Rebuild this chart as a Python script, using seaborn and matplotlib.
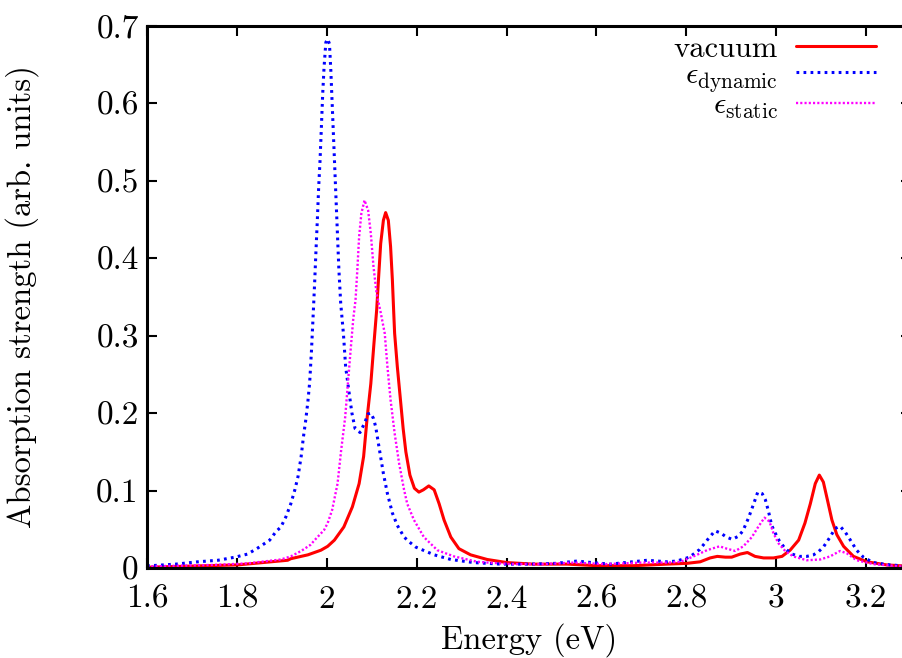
import numpy as np
import pandas as pd
import matplotlib
matplotlib.use("Agg")
import matplotlib.pyplot as plt
import seaborn as sns
from matplotlib.ticker import FuncFormatter

# ---- data ----
vac_E = [1.600, 1.802, 1.913, 1.920, 1.958, 1.987, 2.002, 2.017, 2.038, 2.057, 2.072, 2.082,
         2.090, 2.098, 2.105, 2.111, 2.115, 2.120, 2.126, 2.131, 2.137, 2.142, 2.146, 2.149,
         2.151, 2.157, 2.164, 2.170, 2.176, 2.185, 2.195, 2.205, 2.215, 2.227, 2.239, 2.250,
         2.261, 2.276, 2.294, 2.320, 2.357, 2.401, 2.460, 2.535, 2.601, 2.683, 2.757, 2.801,
         2.831, 2.853, 2.869, 2.887, 2.901, 2.920, 2.936, 2.953, 2.972, 2.994, 3.013, 3.031,
         3.050, 3.064, 3.076, 3.087, 3.096, 3.105, 3.114, 3.124, 3.135, 3.150, 3.172, 3.202,
         3.246, 3.300]
vac_A = [0.001, 0.004, 0.010, 0.012, 0.017, 0.023, 0.028, 0.036, 0.053, 0.079, 0.109, 0.144,
         0.195, 0.238, 0.290, 0.333, 0.372, 0.419, 0.449, 0.459, 0.449, 0.415, 0.372, 0.330,
         0.303, 0.260, 0.217, 0.180, 0.150, 0.120, 0.103, 0.098, 0.101, 0.106, 0.101, 0.083,
         0.062, 0.040, 0.025, 0.017, 0.011, 0.007, 0.005, 0.005, 0.003, 0.003, 0.005, 0.006,
         0.008, 0.013, 0.015, 0.014, 0.014, 0.018, 0.020, 0.015, 0.013, 0.013, 0.015, 0.023,
         0.036, 0.058, 0.083, 0.109, 0.120, 0.111, 0.088, 0.062, 0.043, 0.028, 0.015, 0.008,
         0.004, 0.002]

dyn_E = [1.600, 1.609, 1.664, 1.713, 1.758, 1.796, 1.824, 1.847, 1.873, 1.887, 1.898, 1.909,
         1.920, 1.929, 1.936, 1.943, 1.948, 1.953, 1.958, 1.962, 1.966, 1.970, 1.973, 1.976,
         1.979, 1.982, 1.985, 1.988, 1.991, 1.994, 1.998, 2.002, 2.006, 2.009, 2.012, 2.015,
         2.018, 2.021, 2.024, 2.027, 2.031, 2.037, 2.042, 2.050, 2.056, 2.063, 2.074, 2.084,
         2.092, 2.098, 2.104, 2.109, 2.116, 2.126, 2.135, 2.146, 2.157, 2.172, 2.183, 2.198,
         2.239, 2.276, 2.327, 2.387, 2.450, 2.510, 2.557, 2.590, 2.631, 2.680, 2.713, 2.757,
         2.779, 2.807, 2.830, 2.852, 2.864, 2.877, 2.889, 2.902, 2.916, 2.926, 2.938, 2.950,
         2.959, 2.969, 2.976, 2.983, 2.990, 2.998, 3.007, 3.020, 3.035, 3.052, 3.068, 3.083,
         3.094, 3.105, 3.120, 3.131, 3.142, 3.153, 3.164, 3.179, 3.194, 3.216, 3.253, 3.300]
dyn_A = [0.003, 0.003, 0.005, 0.008, 0.010, 0.014, 0.018, 0.026, 0.036, 0.047, 0.053, 0.066,
         0.083, 0.101, 0.118, 0.144, 0.169, 0.190, 0.215, 0.240, 0.281, 0.330, 0.368, 0.410,
         0.449, 0.492, 0.526, 0.569, 0.613, 0.647, 0.679, 0.683, 0.677, 0.643, 0.600, 0.557,
         0.514, 0.471, 0.428, 0.385, 0.342, 0.303, 0.260, 0.225, 0.200, 0.180, 0.175, 0.187,
         0.199, 0.200, 0.193, 0.182, 0.157, 0.122, 0.096, 0.071, 0.055, 0.040, 0.034, 0.027,
         0.017, 0.011, 0.007, 0.005, 0.005, 0.006, 0.009, 0.007, 0.005, 0.008, 0.010, 0.008,
         0.009, 0.014, 0.024, 0.040, 0.048, 0.045, 0.040, 0.037, 0.041, 0.048, 0.064, 0.083,
         0.098, 0.096, 0.088, 0.073, 0.055, 0.045, 0.035, 0.025, 0.018, 0.015, 0.015, 0.017,
         0.021, 0.027, 0.040, 0.051, 0.054, 0.047, 0.037, 0.023, 0.014, 0.007, 0.004, 0.002]

sta_E = [1.600, 1.750, 1.824, 1.898, 1.920, 1.943, 1.964, 1.973, 1.994, 2.002, 2.012, 2.024,
         2.032, 2.041, 2.047, 2.053, 2.059, 2.064, 2.068, 2.072, 2.077, 2.084, 2.092, 2.098,
         2.104, 2.111, 2.120, 2.129, 2.135, 2.142, 2.151, 2.161, 2.172, 2.179, 2.194, 2.216,
         2.246, 2.283, 2.335, 2.409, 2.480, 2.550, 2.620, 2.700, 2.760, 2.787, 2.816, 2.846,
         2.874, 2.890, 2.909, 2.927, 2.946, 2.961, 2.974, 2.985, 2.994, 3.005, 3.020, 3.038,
         3.068, 3.098, 3.120, 3.142, 3.157, 3.179, 3.216, 3.300]
sta_A = [0.002, 0.004, 0.006, 0.011, 0.015, 0.022, 0.030, 0.036, 0.049, 0.058, 0.075, 0.109,
         0.152, 0.195, 0.238, 0.281, 0.322, 0.346, 0.385, 0.428, 0.458, 0.475, 0.462, 0.432,
         0.389, 0.354, 0.330, 0.303, 0.260, 0.217, 0.174, 0.135, 0.101, 0.083, 0.062, 0.040,
         0.023, 0.015, 0.008, 0.005, 0.005, 0.007, 0.005, 0.007, 0.007, 0.008, 0.015, 0.023,
         0.028, 0.025, 0.022, 0.028, 0.040, 0.054, 0.065, 0.060, 0.045, 0.032, 0.022, 0.015,
         0.010, 0.011, 0.015, 0.022, 0.019, 0.010, 0.005, 0.001]

labels = ["vacuum", r"$\epsilon_{\rm dynamic}$", r"$\epsilon_{\rm static}$"]
x_ticks = [1.6, 1.8, 2.0, 2.2, 2.4, 2.6, 2.8, 3.0, 3.2]
y_ticks = [0, 0.1, 0.2, 0.3, 0.4, 0.5, 0.6, 0.7]

sns.set_theme(style="ticks")
plt.rcParams.update({
    "font.family": ["cmr10", "DejaVu Serif"],
    "mathtext.fontset": "cm",
    "axes.formatter.use_mathtext": True,
    "font.size": 22,
    "text.color": "black",
    "axes.labelcolor": "black",
    "xtick.color": "black",
    "ytick.color": "black",
    "axes.edgecolor": "black",
})

fig = plt.figure(figsize=(9.03, 6.58), dpi=100)
ax = fig.add_axes([147 / 903, 90 / 658, 764 / 903, 542 / 658])

df_v = pd.DataFrame({"E": vac_E, "A": vac_A})
df_d = pd.DataFrame({"E": dyn_E, "A": dyn_A})
df_s = pd.DataFrame({"E": sta_E, "A": sta_A})

sns.lineplot(data=df_v, x="E", y="A", ax=ax, color="#ff0000", lw=2.2,
             estimator=None, label=labels[0])
sns.lineplot(data=df_d, x="E", y="A", ax=ax, color="#0000ff", lw=2.2,
             linestyle=(0, (0.9, 1.4)), estimator=None, label=labels[1])
sns.lineplot(data=df_s, x="E", y="A", ax=ax, color="#ff00ff", lw=1.7,
             linestyle=(0, (0.9, 0.9)), estimator=None, label=labels[2])

ax.set_xlim(1.6, 3.3)
ax.set_ylim(0, 0.7)
ax.set_xticks(x_ticks)
ax.set_yticks(y_ticks)
fmt = FuncFormatter(lambda v, p: "%g" % round(v, 3))
ax.xaxis.set_major_formatter(fmt)
ax.yaxis.set_major_formatter(fmt)
ax.tick_params(direction="in", length=7, width=1.5, top=True, right=True,
               labelsize=24, colors="black")
ax.tick_params(axis="x", pad=12)
ax.tick_params(axis="y", pad=6)
for s in ax.spines.values():
    s.set_linewidth(2.2)
    s.set_color("black")
    s.set_visible(True)

ax.set_xlabel("Energy (eV)", fontsize=23.5, color="black")
ax.set_ylabel("Absorption strength (arb. units)", fontsize=23.5, color="black")
ax.xaxis.set_label_coords(0.5, -0.1015)
ax.yaxis.set_label_coords(-0.142, 0.5)

leg = ax.legend(loc="upper right", bbox_to_anchor=(0.954, 0.983), frameon=False,
                markerfirst=False, handlelength=2.6, handletextpad=0.62,
                labelspacing=-0.05, borderpad=0, borderaxespad=0, fontsize=22)
for t in leg.get_texts():
    t.set_ha("right")
    t.set_color("black")

fig.savefig("out.png", dpi=100)
